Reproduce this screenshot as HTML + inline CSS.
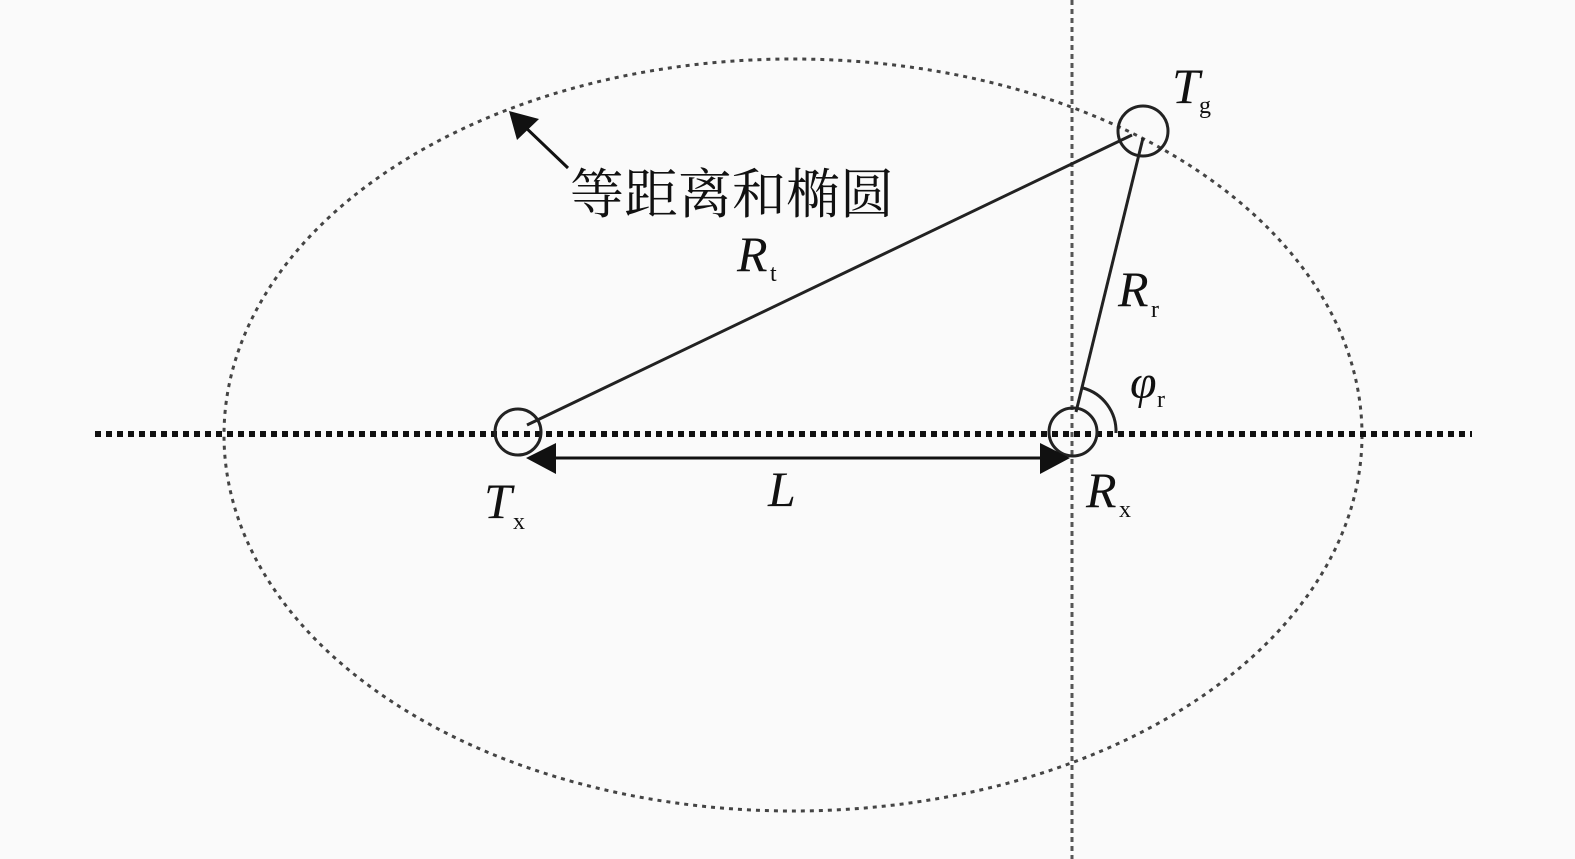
<!DOCTYPE html>
<html><head><meta charset="utf-8">
<style>
html,body{margin:0;padding:0;background:#fafafa;}
svg{display:block;}
.it{font-family:"Liberation Serif",serif;font-style:italic;fill:#111;}
.sub{font-family:"Liberation Serif",serif;fill:#111;}
</style></head>
<body>
<svg width="1575" height="859" viewBox="0 0 1575 859" xmlns="http://www.w3.org/2000/svg">
<rect width="1575" height="859" fill="#fafafa"/>
<ellipse cx="793" cy="435" rx="569" ry="376" fill="none" stroke="#444" stroke-width="3" stroke-dasharray="4,5"/>
<line x1="95" y1="434" x2="1472" y2="434" stroke="#111" stroke-width="6" stroke-dasharray="6,5"/>
<line x1="1072" y1="0" x2="1072" y2="859" stroke="#555" stroke-width="3" stroke-dasharray="5,4"/>
<circle cx="518" cy="432" r="23" fill="none" stroke="#222" stroke-width="3"/>
<circle cx="1073" cy="432" r="24" fill="none" stroke="#222" stroke-width="3"/>
<circle cx="1143" cy="131" r="25" fill="none" stroke="#222" stroke-width="3"/>
<line x1="527" y1="425" x2="1132" y2="135" stroke="#222" stroke-width="3"/>
<line x1="1076" y1="412" x2="1143" y2="138" stroke="#222" stroke-width="3"/>
<path d="M1083,388 A45,45 0 0 1 1116,433" fill="none" stroke="#222" stroke-width="3"/>
<line x1="550" y1="458" x2="1045" y2="458" stroke="#111" stroke-width="3"/>
<polygon points="526,458 556,443 556,474" fill="#111"/>
<polygon points="1070,458 1040,443 1040,474" fill="#111"/>
<line x1="568" y1="168" x2="522" y2="124" stroke="#111" stroke-width="3"/>
<polygon points="509,111 539,119 517,140" fill="#111"/>
<text x="570" y="213" font-family="'Liberation Serif','Noto Serif CJK SC','Noto Sans CJK SC',serif" font-size="54" fill="#111">等距离和椭圆</text>
<text x="737" y="271" class="it" font-size="50">R</text><text x="770" y="281" class="sub" font-size="24">t</text>
<text x="1118" y="306" class="it" font-size="50">R</text><text x="1151" y="317" class="sub" font-size="24">r</text>
<text x="1130" y="398" class="it" font-size="48">φ</text><text x="1157" y="407" class="sub" font-size="24">r</text>
<text x="1172" y="103" class="it" font-size="50">T</text><text x="1199" y="113" class="sub" font-size="24">g</text>
<text x="484" y="518" class="it" font-size="50">T</text><text x="513" y="529" class="sub" font-size="24">x</text>
<text x="768" y="506" class="it" font-size="50">L</text>
<text x="1086" y="507" class="it" font-size="50">R</text><text x="1119" y="517" class="sub" font-size="24">x</text>
</svg>
</body></html>
